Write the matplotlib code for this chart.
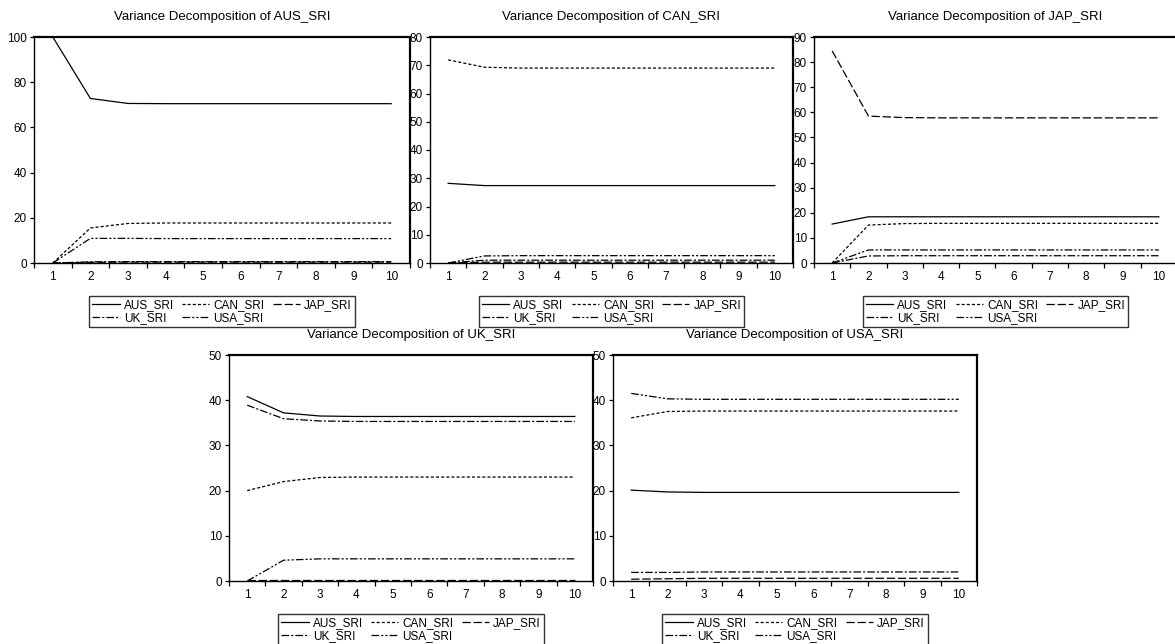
import matplotlib
matplotlib.use("Agg")
import matplotlib.pyplot as plt
from matplotlib.ticker import MultipleLocator, FixedLocator

plt.rcParams['font.family'] = ['Liberation Sans', 'DejaVu Sans']
plt.rcParams['lines.scale_dashes'] = False

periods = [1, 2, 3, 4, 5, 6, 7, 8, 9, 10]
shock_names = ["AUS_SRI", "CAN_SRI", "JAP_SRI", "UK_SRI", "USA_SRI"]

# Variance decomposition of AUS_SRI
aus_aus = [100.0, 72.8, 70.6, 70.5, 70.5, 70.5, 70.5, 70.5, 70.5, 70.5]
aus_can = [0.0, 15.5, 17.5, 17.7, 17.7, 17.7, 17.7, 17.7, 17.7, 17.7]
aus_jap = [0.0, 0.3, 0.4, 0.4, 0.4, 0.4, 0.4, 0.4, 0.4, 0.4]
aus_uk = [0.0, 0.5, 0.6, 0.6, 0.6, 0.6, 0.6, 0.6, 0.6, 0.6]
aus_usa = [0.0, 10.9, 10.9, 10.8, 10.8, 10.8, 10.8, 10.8, 10.8, 10.8]

# Variance decomposition of CAN_SRI
can_aus = [28.2, 27.4, 27.4, 27.4, 27.4, 27.4, 27.4, 27.4, 27.4, 27.4]
can_can = [71.9, 69.3, 69.0, 69.0, 69.0, 69.0, 69.0, 69.0, 69.0, 69.0]
can_jap = [0.0, 0.3, 0.3, 0.3, 0.3, 0.3, 0.3, 0.3, 0.3, 0.3]
can_uk = [0.0, 1.0, 1.0, 1.0, 1.0, 1.0, 1.0, 1.0, 1.0, 1.0]
can_usa = [0.0, 2.5, 2.6, 2.6, 2.6, 2.6, 2.6, 2.6, 2.6, 2.6]

# Variance decomposition of JAP_SRI
jap_aus = [15.5, 18.4, 18.4, 18.4, 18.4, 18.4, 18.4, 18.4, 18.4, 18.4]
jap_can = [0.0, 15.1, 15.7, 15.8, 15.8, 15.8, 15.8, 15.8, 15.8, 15.8]
jap_jap = [84.5, 58.5, 57.9, 57.8, 57.8, 57.8, 57.8, 57.8, 57.8, 57.8]
jap_uk = [0.0, 2.8, 2.9, 2.9, 2.9, 2.9, 2.9, 2.9, 2.9, 2.9]
jap_usa = [0.0, 5.2, 5.2, 5.2, 5.2, 5.2, 5.2, 5.2, 5.2, 5.2]

# Variance decomposition of UK_SRI
uk_aus = [40.8, 37.2, 36.5, 36.4, 36.4, 36.4, 36.4, 36.4, 36.4, 36.4]
uk_can = [20.0, 22.0, 22.9, 23.0, 23.0, 23.0, 23.0, 23.0, 23.0, 23.0]
uk_jap = [0.2, 0.2, 0.2, 0.2, 0.2, 0.2, 0.2, 0.2, 0.2, 0.2]
uk_uk = [38.9, 35.9, 35.4, 35.3, 35.3, 35.3, 35.3, 35.3, 35.3, 35.3]
uk_usa = [0.0, 4.6, 4.9, 4.9, 4.9, 4.9, 4.9, 4.9, 4.9, 4.9]

# Variance decomposition of USA_SRI
usa_aus = [20.1, 19.7, 19.6, 19.6, 19.6, 19.6, 19.6, 19.6, 19.6, 19.6]
usa_can = [36.1, 37.5, 37.6, 37.6, 37.6, 37.6, 37.6, 37.6, 37.6, 37.6]
usa_jap = [0.4, 0.5, 0.6, 0.6, 0.6, 0.6, 0.6, 0.6, 0.6, 0.6]
usa_uk = [1.9, 1.9, 2.0, 2.0, 2.0, 2.0, 2.0, 2.0, 2.0, 2.0]
usa_usa = [41.5, 40.3, 40.2, 40.2, 40.2, 40.2, 40.2, 40.2, 40.2, 40.2]

titles = ["Variance Decomposition of AUS_SRI", "Variance Decomposition of CAN_SRI",
          "Variance Decomposition of JAP_SRI", "Variance Decomposition of UK_SRI",
          "Variance Decomposition of USA_SRI"]
panel_series = [
    [aus_aus, aus_can, aus_jap, aus_uk, aus_usa],
    [can_aus, can_can, can_jap, can_uk, can_usa],
    [jap_aus, jap_can, jap_jap, jap_uk, jap_usa],
    [uk_aus, uk_can, uk_jap, uk_uk, uk_usa],
    [usa_aus, usa_can, usa_jap, usa_uk, usa_usa],
]
y_max = [100, 80, 90, 50, 50]
y_step = [20, 10, 10, 10, 10]

styles = [
    dict(linestyle='-'),
    dict(linestyle=(0, (2.2, 1.5))),
    dict(linestyle=(0, (6.0, 2.0))),
    dict(linestyle=(0, (5.5, 1.5, 1.5, 1.5))),
    dict(linestyle=(0, (5.5, 1.5, 1.5, 1.5, 1.5, 1.5))),
]

W, H = 1175, 644
fig = plt.figure(figsize=(W / 100, H / 100), dpi=100)
fig.patch.set_facecolor('white')


def rect(l, r, t, b):
    return [l / W, 1 - b / H, (r - l) / W, (b - t) / H]


rects = [rect(34, 410, 37, 263), rect(430, 793, 37, 263), rect(814, 1177, 37, 263),
         rect(229, 593, 355, 581), rect(613, 977, 355, 581)]

for i in range(5):
    ax = fig.add_axes(rects[i])
    lines = []
    for j, s in enumerate(panel_series[i]):
        ln, = ax.plot(periods, s, color='black', linewidth=0.9, label=shock_names[j], **styles[j])
        lines.append(ln)
    ax.set_xlim(0.5, 10.5)
    ax.set_ylim(0, y_max[i])
    ax.yaxis.set_major_locator(MultipleLocator(y_step[i]))
    ax.xaxis.set_major_locator(FixedLocator(periods))
    ax.xaxis.set_minor_locator(FixedLocator([p + 0.5 for p in [0] + periods]))
    ax.tick_params(axis='x', which='major', length=0, pad=6, labelsize=8.5)
    ax.tick_params(axis='x', which='minor', length=3.5, width=0.9, direction='out')
    ax.tick_params(axis='y', which='major', length=3, width=0.9, direction='out', pad=2, labelsize=8.5)
    for side in ['left', 'bottom']:
        ax.spines[side].set_linewidth(1.0)
    for side in ['top', 'right']:
        ax.spines[side].set_linewidth(1.6)
    ax.set_title(titles[i], fontsize=9.5, pad=12)
    order = [0, 3, 1, 4, 2]
    leg = ax.legend([lines[k] for k in order], [shock_names[k] for k in order],
                    ncol=3, loc='upper center', bbox_to_anchor=(0.5, -0.145),
                    frameon=True, fancybox=False, fontsize=8.5, handlelength=2.3,
                    handletextpad=0.35, columnspacing=0.7, labelspacing=0.15,
                    borderpad=0.25, borderaxespad=0)
    leg.get_frame().set_edgecolor('black')
    leg.get_frame().set_linewidth(1.0)

fig.savefig('out.png', dpi=100, facecolor='white')
